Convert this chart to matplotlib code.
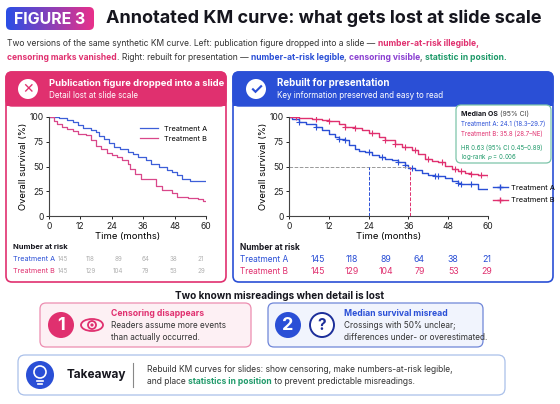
import numpy as np
import matplotlib
matplotlib.use("Agg")
import matplotlib.pyplot as plt
from matplotlib.patches import FancyBboxPatch, Circle, Ellipse

plt.rcParams['font.family'] = ['Inter', 'DejaVu Sans']

BLUE = '#2a4fd6'
PINK = '#e0306f'
GREEN = '#1f9a6a'
PURPLE = '#8a3fd1'
DARK = '#16161e'

months = [0, 12, 24, 36, 48, 60]
risk_a = [145, 118, 89, 64, 38, 21]
risk_b = [145, 129, 104, 79, 53, 29]

# left (publication) curves
left_a_t = [0, 4, 7, 9, 11, 13, 16, 18, 19, 21, 23, 25, 27, 30, 32, 34, 37, 39, 42, 45, 47, 49, 51, 54, 60]
left_a_s = [100, 99, 97, 95, 92, 89, 87, 85, 81, 78, 74, 70, 68, 65, 63, 60, 57, 53, 49, 46, 44, 41, 37, 35, 35]
left_b_t = [0, 2, 3, 5, 7, 9, 11, 14, 16, 18, 20, 22, 24, 26, 28, 30, 31, 33, 35, 40, 41, 43, 47, 49, 53, 57, 59, 60]
left_b_s = [100, 96, 93, 90, 88, 86, 83, 82, 77, 71, 68, 64, 62, 60, 57, 53, 47, 42, 37, 37, 30, 26, 23, 19, 18, 17, 15, 15]

# right (rebuilt) curves
right_a_t = [0, 1, 3, 5, 8, 10, 12, 14, 15, 17, 18, 20, 21, 23, 25, 27, 29, 31, 33, 35, 36, 38, 40, 42, 44, 47, 49, 51, 52, 55, 57, 60]
right_a_s = [100, 98, 95, 93, 90, 87, 83, 80, 78, 77, 72, 68, 66, 65, 62, 60, 58, 57, 55, 52, 48, 46, 43, 41, 40, 38, 35, 33, 32, 32, 27, 27]
right_b_t = [0, 3, 7, 10, 12, 15, 17, 20, 22, 24, 27, 29, 32, 34, 37, 39, 41, 43, 45, 47, 49, 51, 53, 55, 57, 60]
right_b_s = [100, 99, 98, 97, 96, 93, 90, 89, 87, 84, 80, 77, 73, 70, 67, 63, 58, 56, 55, 51, 47, 45, 43, 42, 41, 39]
cens_a = [3, 8, 15, 17, 24, 28, 33, 35, 37, 44, 45, 51, 52, 55]
cens_b = [2, 8, 12, 17, 20, 25, 29, 32, 35, 38, 42, 46, 50, 52, 55, 58]

fig = plt.figure(figsize=(5.6, 4.04), dpi=100)
bg = fig.add_axes([0, 0, 1, 1])
bg.set_xlim(0, 560)
bg.set_ylim(404, 0)
bg.axis('off')


def box(x, y, w, h, fc, ec, lw=1.0, r=6, z=1):
    p = FancyBboxPatch((x, y), w, h, boxstyle=f"round,pad=0,rounding_size={r}",
                       fc=fc, ec=ec, lw=lw, zorder=z)
    bg.add_patch(p)
    return p


def runs(x, y, pieces, size=6.0, z=3):
    r = fig.canvas.get_renderer()
    for txt, col, wt in pieces:
        t = bg.text(x, y, txt, color=col, fontsize=size, fontweight=wt, va='center', ha='left', zorder=z)
        bb = t.get_window_extent(renderer=r)
        x += bb.width


def step_at(ts, ss, t):
    i = np.searchsorted(ts, t, side='right') - 1
    return np.array(ss)[i]


# title
badge = box(6, 7, 88, 23, 'none', 'none', r=5, z=2)
grad = np.linspace(0, 1, 100).reshape(1, -1)
im = bg.imshow(grad, extent=[6, 94, 30, 7], cmap=matplotlib.colors.LinearSegmentedColormap.from_list('g', ['#2a4fe6', '#e8308a']), zorder=2, aspect='auto')
im.set_clip_path(badge)
bg.set_xlim(0, 560); bg.set_ylim(404, 0)
bg.text(50, 19, 'FIGURE 3', color='white', fontsize=11.5, fontweight='bold', ha='center', va='center', zorder=3)
bg.text(106, 18, 'Annotated KM curve: what gets lost at slide scale', color=DARK, fontsize=13, fontweight='bold', va='center')

runs(7, 44, [('Two versions of the same synthetic KM curve. Left: publication figure dropped into a slide — ', '#333', 'normal'),
             ('number-at-risk illegible,', PINK, 'bold')], size=6.1)
runs(7, 57, [('censoring marks vanished', PINK, 'bold'), ('. Right: rebuilt for presentation — ', '#333', 'normal'),
             ('number-at-risk legible', BLUE, 'bold'), (', ', '#333', 'normal'),
             ('censoring visible', PURPLE, 'bold'), (', ', '#333', 'normal'),
             ('statistic in position.', GREEN, 'bold')], size=6.1)

# panels
box(6, 72, 220, 210, 'white', PINK, lw=1.2, r=6)
box(6, 72, 220, 34, PINK, PINK, r=6, z=2)
bg.add_patch(plt.Rectangle((6, 95), 220, 11, fc=PINK, ec='none', zorder=2))
bg.add_patch(Circle((28, 89), 10, fc='white', ec='none', zorder=3))
bg.text(28, 89.5, '✕', color=PINK, fontsize=10, fontweight='bold', ha='center', va='center', zorder=4)
bg.text(49, 83, 'Publication figure dropped into a slide', color='white', fontsize=6.8, fontweight='bold', va='center', zorder=4)
bg.text(49, 95, 'Detail lost at slide scale', color='white', fontsize=5.8, va='center', zorder=4)

box(233, 72, 320, 210, 'white', BLUE, lw=1.2, r=6)
box(233, 72, 320, 34, BLUE, BLUE, r=6, z=2)
bg.add_patch(plt.Rectangle((233, 95), 320, 11, fc=BLUE, ec='none', zorder=2))
bg.add_patch(Circle((256, 89), 10, fc='white', ec='none', zorder=3))
bg.text(256, 89.5, '✓', color=BLUE, fontsize=11, fontweight='bold', ha='center', va='center', zorder=4)
bg.text(277, 83, 'Rebuilt for presentation', color='white', fontsize=7.0, fontweight='bold', va='center', zorder=4)
bg.text(277, 95, 'Key information preserved and easy to read', color='white', fontsize=5.8, va='center', zorder=4)


def px_axes(x0, x1, y0, y1):
    return fig.add_axes([x0 / 560, 1 - y1 / 404, (x1 - x0) / 560, (y1 - y0) / 404])


def style(ax):
    ax.set_xlim(0, 60)
    ax.set_ylim(0, 100)
    ax.set_xticks(months)
    ax.set_yticks([0, 25, 50, 75, 100])
    for s in ['top', 'right']:
        ax.spines[s].set_visible(False)
    for s in ['left', 'bottom']:
        ax.spines[s].set_color('#444')
        ax.spines[s].set_linewidth(0.8)
    ax.tick_params(labelsize=6.2, length=2.5, width=0.7, colors='#222', pad=1.5)
    ax.set_xlabel('Time (months)', fontsize=6.8, labelpad=1)
    ax.set_ylabel('Overall survival (%)', fontsize=6.8, labelpad=1)
    ax.set_facecolor('none')


axl = px_axes(49, 206, 117, 216)
style(axl)
axl.step(left_a_t, left_a_s, where='post', color='#3d5fd8', lw=0.9, label='Treatment A')
axl.step(left_b_t, left_b_s, where='post', color='#d9478a', lw=0.9, label='Treatment B')
axl.legend(loc='upper right', fontsize=5.3, frameon=False, bbox_to_anchor=(1.05, 0.98), handlelength=2.5)

axr = px_axes(289, 488, 117, 216)
style(axr)
axr.step(right_a_t, right_a_s, where='post', color=BLUE, lw=1.0)
axr.step(right_b_t, right_b_s, where='post', color=PINK, lw=1.0)
axr.plot(cens_a, step_at(right_a_t, right_a_s, cens_a), '+', color=BLUE, ms=4, mew=0.8)
axr.plot(cens_b, step_at(right_b_t, right_b_s, cens_b), '+', color=PINK, ms=4, mew=0.8)
axr.plot([0, 36.5], [50, 50], ls='--', color='#999', lw=0.7)
axr.plot([24.1, 24.1], [0, 50], ls='--', color=BLUE, lw=0.7)
axr.plot([36.5, 36.5], [0, 50], ls='--', color=PINK, lw=0.7)
axr.plot([], [], '-', marker='+', color=BLUE, lw=1, ms=5, label='Treatment A')
axr.plot([], [], '-', marker='+', color=PINK, lw=1, ms=5, label='Treatment B')
axr.legend(loc='upper left', bbox_to_anchor=(1.0, 0.36), fontsize=5.4, frameon=False, handlelength=2.0,
           labelspacing=0.8, borderaxespad=0.2, handletextpad=0.5)

# stats box
box(456, 105, 95, 58, 'white', '#7cc4a9', lw=0.9, r=5, z=5)
runs(461, 114, [('Median OS ', DARK, 'bold'), ('(95% CI)', '#444', 'normal')], size=5.0, z=6)
bg.text(461, 124, 'Treatment A: 24.1 (18.3–29.7)', color=BLUE, fontsize=4.4, va='center', zorder=6)
bg.text(461, 134, 'Treatment B: 35.8 (28.7–NE)', color=PINK, fontsize=4.4, va='center', zorder=6)
bg.text(461, 148, 'HR 0.63 (95% CI 0.45–0.89)', color=GREEN, fontsize=4.4, va='center', zorder=6)
bg.text(461, 157, 'log-rank $p$ = 0.006', color=GREEN, fontsize=4.4, va='center', zorder=6)

# numbers at risk
bg.text(13, 247, 'Number at risk', fontsize=5.5, fontweight='bold', color=DARK, va='center')
bg.text(13, 259, 'Treatment A', fontsize=5.2, color=BLUE, va='center')
bg.text(13, 271, 'Treatment B', fontsize=5.2, color=PINK, va='center')
left_cols = np.linspace(63, 201, len(months))
for x, a, b in zip(left_cols, risk_a, risk_b):
    bg.text(x, 259, str(a), fontsize=4.5, color='#b0b0b0', ha='center', va='center')
    bg.text(x, 271, str(b), fontsize=4.5, color='#b0b0b0', ha='center', va='center')

bg.text(240, 247, 'Number at risk', fontsize=6.0, fontweight='bold', color=DARK, va='center')
bg.text(240, 259, 'Treatment A', fontsize=6.0, color=BLUE, va='center')
bg.text(240, 271, 'Treatment B', fontsize=6.0, color=PINK, va='center')
right_cols = np.linspace(318, 487, len(months))
for x, a, b in zip(right_cols, risk_a, risk_b):
    bg.text(x, 259, str(a), fontsize=6.3, color=BLUE, ha='center', va='center')
    bg.text(x, 271, str(b), fontsize=6.3, color=PINK, ha='center', va='center')

# misreadings
bg.text(280, 296, 'Two known misreadings when detail is lost', fontsize=7.2, fontweight='bold', color=DARK, ha='center', va='center')
box(40, 303, 211, 44, '#fdf0f4', '#ec8db0', lw=0.9, r=6)
bg.add_patch(Circle((61, 325), 13, fc=PINK, ec='none', zorder=3))
bg.text(61, 325.5, '1', color='white', fontsize=13, fontweight='bold', ha='center', va='center', zorder=4)
bg.add_patch(Ellipse((92, 325), 22, 12, fc='none', ec=PINK, lw=1.3, zorder=3))
bg.add_patch(Circle((92, 325), 4, fc='none', ec=PINK, lw=1.3, zorder=3))
bg.add_patch(Circle((92, 325), 1.6, fc=PINK, ec='none', zorder=3))
bg.text(111, 314, 'Censoring disappears', color=PINK, fontsize=6.2, fontweight='bold', va='center')
bg.text(111, 326, 'Readers assume more events', color='#333', fontsize=5.9, va='center')
bg.text(111, 338, 'than actually occurred.', color='#333', fontsize=5.9, va='center')

box(268, 303, 215, 44, '#f1f4fd', '#6f86d8', lw=0.9, r=6)
bg.add_patch(Circle((288, 325), 13, fc=BLUE, ec='none', zorder=3))
bg.text(288, 325.5, '2', color='white', fontsize=13, fontweight='bold', ha='center', va='center', zorder=4)
bg.add_patch(Circle((322, 325), 12, fc='white', ec='#1d2f9a', lw=1.4, zorder=3))
bg.text(322, 325.5, '?', color='#1d2f9a', fontsize=11, fontweight='bold', ha='center', va='center', zorder=4)
bg.text(344, 314, 'Median survival misread', color=BLUE, fontsize=6.2, fontweight='bold', va='center')
bg.text(344, 326, 'Crossings with 50% unclear;', color='#333', fontsize=5.9, va='center')
bg.text(344, 338, 'differences under- or overestimated.', color='#333', fontsize=5.9, va='center')

# takeaway
box(18, 355, 487, 40, 'white', '#aac0ea', lw=0.9, r=7)
bg.add_patch(Circle((40, 375), 14, fc=BLUE, ec='none', zorder=3))
bg.add_patch(Circle((40, 372), 6, fc='none', ec='white', lw=1.2, zorder=4))
bg.plot([37, 43], [381, 381], color='white', lw=1.2, zorder=4)
bg.plot([38, 42], [384, 384], color='white', lw=1.2, zorder=4)
bg.text(67, 375, 'Takeaway', color=DARK, fontsize=8.5, fontweight='bold', va='center')
bg.plot([133, 133], [363, 387], color='#888', lw=0.8)
bg.text(147, 369, 'Rebuild KM curves for slides: show censoring, make numbers-at-risk legible,', color='#333', fontsize=6.1, va='center')
runs(147, 382, [('and place ', '#333', 'normal'), ('statistics in position', GREEN, 'bold'),
                (' to prevent predictable misreadings.', '#333', 'normal')], size=6.1)

fig.savefig('out.png', dpi=100, facecolor='white')
